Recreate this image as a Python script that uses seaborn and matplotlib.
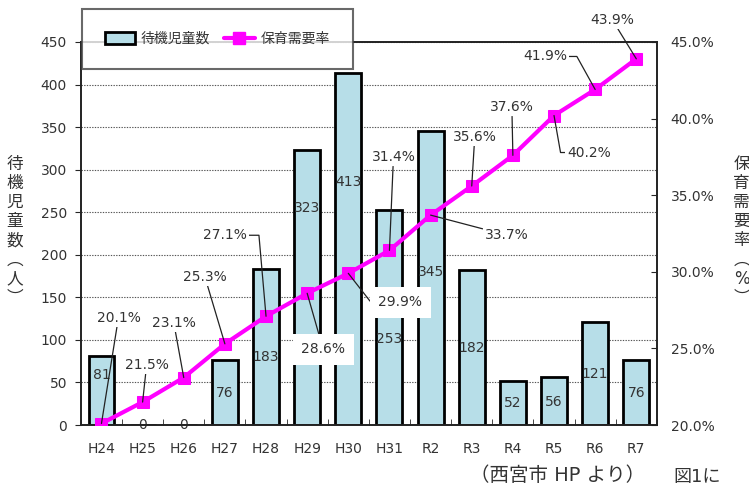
import numpy as np
import pandas as pd
import matplotlib.pyplot as plt
import seaborn as sns
from matplotlib.patches import Patch
from matplotlib.lines import Line2D

# data
years = ["H24", "H25", "H26", "H27", "H28", "H29", "H30",
         "H31", "R2", "R3", "R4", "R5", "R6", "R7"]
waiting_children = [81, 0, 0, 76, 183, 323, 413, 253, 345, 182, 52, 56, 121, 76]
demand_rate = [20.1, 21.5, 23.1, 25.3, 27.1, 28.6, 29.9,
               31.4, 33.7, 35.6, 37.6, 40.2, 41.9, 43.9]

# styling: where each count label sits inside its bar (fraction of height)
count_label_frac = [0.73, 0.5, 0.5, 0.5, 0.44, 0.79, 0.69,
                    0.4, 0.52, 0.5, 0.5, 0.48, 0.5, 0.5]
# styling: rate label offsets from each point (pixels) and leader shape
rate_label_offsets = [(17, 106), (4, 37), (-10, 55), (-20, 67), (-41, 81),
                      (16, -56), (52, -29), (4, 93), (76, -20), (3, 49),
                      (-1, 48), (35, -37), (-50, 33), (-24, 39)]
rate_leader = ["arc3", "arc3", "arc3", "arc3", "angle,angleA=0,angleB=95,rad=0",
               "arc3", "angle,angleA=0,angleB=-52,rad=0", "arc3", "arc3", "arc3",
               "arc3", "angle,angleA=0,angleB=-80,rad=0",
               "angle,angleA=0,angleB=119,rad=0", "arc3"]
boxed_labels = {5, 6}

BAR_COLOR = "#B7DEE8"
LINE_COLOR = "#FF00FF"
TEXT_COLOR = "#333333"

df = pd.DataFrame({"year": years, "count": waiting_children, "rate": demand_rate})

sns.set_style("ticks")
plt.rcParams["font.family"] = ["DejaVu Sans", "Noto Sans CJK JP"]

fig = plt.figure(figsize=(7.49, 4.88), dpi=100)
ax = fig.add_axes([0.108, 0.129, 0.769, 0.785])
ax2 = ax.twinx()

sns.barplot(data=df, x="year", y="count", color=BAR_COLOR, saturation=1,
            width=0.63, edgecolor="black", linewidth=2, ax=ax, zorder=2)
sns.lineplot(x=np.arange(len(df)), y=df["rate"], color=LINE_COLOR, lw=3,
             marker="s", markersize=9, markeredgecolor=LINE_COLOR, ax=ax2, zorder=3)

# left axis
ax.set_ylim(0, 450)
ax.set_yticks(range(0, 451, 50))
ax.set_xlim(-0.5, len(df) - 0.5)
ax.set_xlabel("")
ax.set_ylabel("")
ax.set_axisbelow(True)
ax.yaxis.grid(True, linestyle=(0, (1.2, 1.2)), color="#555555", lw=0.8)
ax.tick_params(axis="y", direction="out", length=4, pad=6,
               labelsize=10, labelcolor=TEXT_COLOR)
ax.tick_params(axis="x", which="major", length=0, pad=12,
               labelsize=10, labelcolor=TEXT_COLOR)
ax.set_xticks(np.arange(len(df) + 1) - 0.5, minor=True)
ax.tick_params(axis="x", which="minor", direction="in", length=4)

# right axis
ax2.set_ylim(20, 45)
ax2.set_yticks(range(20, 46, 5))
ax2.set_yticklabels([f"{t:.1f}%" for t in range(20, 46, 5)])
ax2.set_ylabel("")
ax2.tick_params(axis="y", direction="in", length=4, pad=10,
                labelsize=10, labelcolor=TEXT_COLOR)

for a in (ax, ax2):
    for s in a.spines.values():
        s.set_visible(True)
        s.set_color("#222222")
        s.set_linewidth(1.2)

# counts inside bars
for i, (v, f) in enumerate(zip(waiting_children, count_label_frac)):
    ax.text(i, v * f, str(v), ha="center", va="center",
            fontsize=10, color=TEXT_COLOR, zorder=4)

# rate labels with leader lines
for i, v in enumerate(demand_rate):
    pad = 0.6 if i in boxed_labels else 0.15
    ax2.annotate(f"{v:.1f}%", xy=(i, v), xytext=rate_label_offsets[i],
                 textcoords="offset pixels", ha="center", va="center",
                 fontsize=10, color=TEXT_COLOR, zorder=5,
                 bbox=dict(boxstyle=f"square,pad={pad}", fc="white", ec="none"),
                 arrowprops=dict(arrowstyle="-", color="#222222", lw=0.9,
                                 shrinkA=0, shrinkB=0,
                                 connectionstyle=rate_leader[i]))

# legend
handles = [Patch(facecolor=BAR_COLOR, edgecolor="black", linewidth=2),
           Line2D([], [], color=LINE_COLOR, lw=3, marker="s", markersize=9)]
leg = fig.legend(handles, ["待機児童数", "保育需要率"], loc="center",
                 bbox_to_anchor=(0.290, 0.920), ncol=2, fontsize=10,
                 frameon=True, fancybox=False, borderpad=1.65,
                 handlelength=2.2, handleheight=0.9, handletextpad=0.4,
                 columnspacing=1.0)
leg.get_frame().set_edgecolor("#444444")
leg.get_frame().set_linewidth(1.5)
for t in leg.get_texts():
    t.set_color(TEXT_COLOR)

# vertical axis titles
fig.text(0.020, 0.527, "待\n機\n児\n童\n数\n︵\n人\n︶", ha="center", va="center",
         fontsize=12, color=TEXT_COLOR, linespacing=1.08)
fig.text(0.990, 0.527, "保\n育\n需\n要\n率\n︵\n%\n︶", ha="center", va="center",
         fontsize=12, color=TEXT_COLOR, linespacing=1.08)

# source note and trailing body text
fig.text(0.745, 1 - 466 / 488, "（西宮市 HP より）", ha="center", va="top",
         fontsize=14, color=TEXT_COLOR)
fig.text(0.899, 0.004, "図1に", ha="left", va="bottom",
         fontsize=13, color=TEXT_COLOR)

fig.savefig("out.png", dpi=100)
